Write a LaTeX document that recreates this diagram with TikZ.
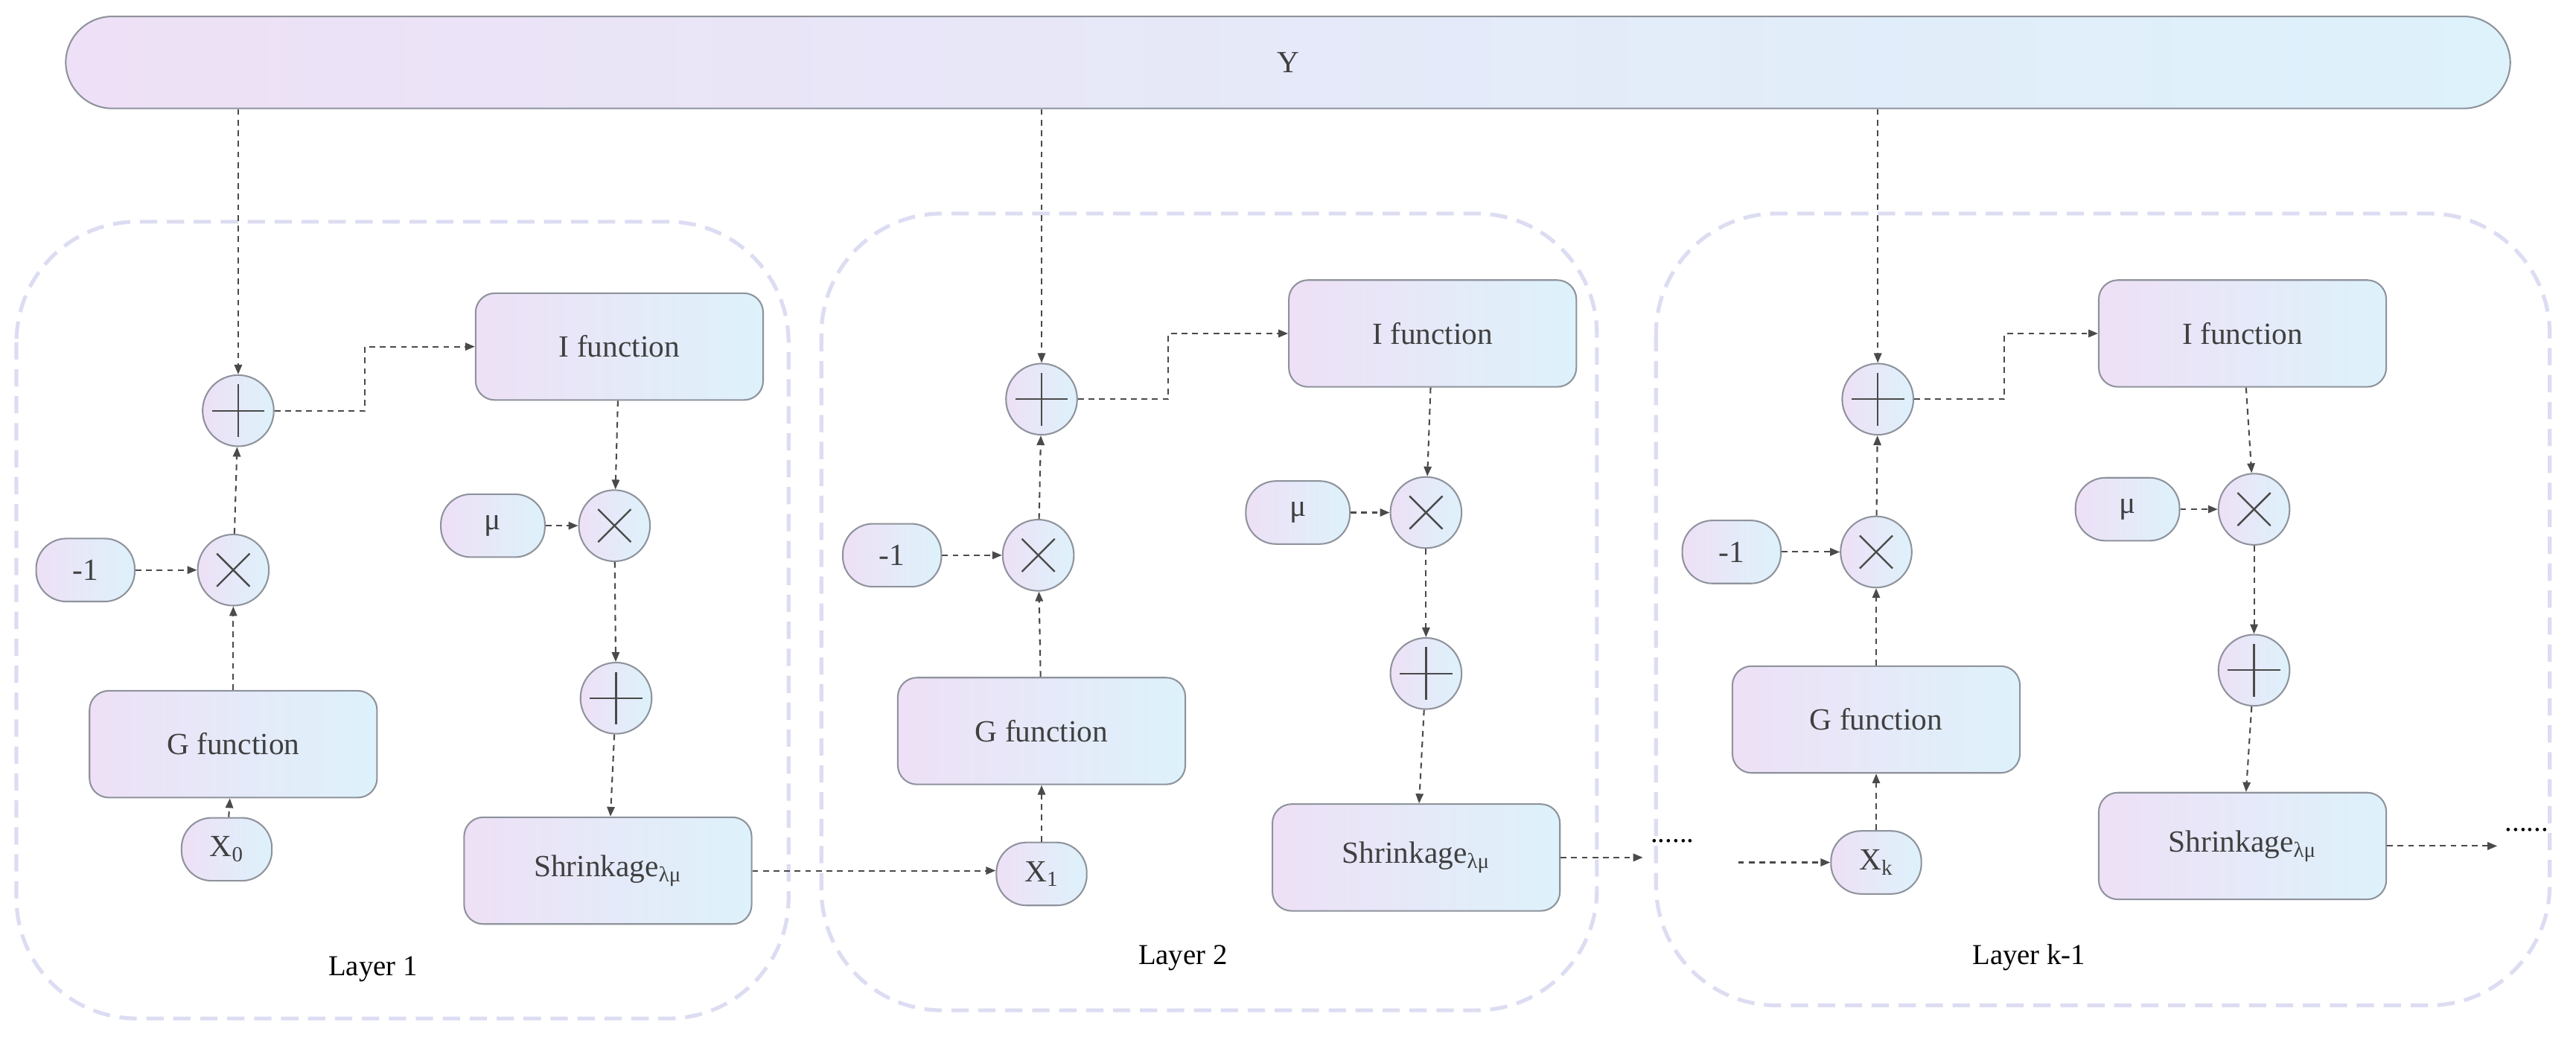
\documentclass[tikz,border=0pt]{standalone}
\usepackage{fontspec}
\setmainfont{Liberation Serif}
\usetikzlibrary{arrows.meta}
\definecolor{lpink}{HTML}{EEE0F6}
\definecolor{lcyan}{HTML}{DDF2FB}
\definecolor{bord}{HTML}{8E939C}
\definecolor{arr}{HTML}{4A4A4A}
\definecolor{lay}{HTML}{DCDDF2}
\begin{document}
\begin{tikzpicture}[x=0.03cm,y=-0.03cm,
  box/.style={draw=bord,line width=0.8pt,rounded corners=0.35cm,left color=lpink,right color=lcyan,font=\fontsize{16}{18}\selectfont,text=black!75},
  func/.style={box,minimum width=5.25cm,minimum height=1.95cm},
  pill/.style={box,rounded corners=0.55cm,minimum height=1.15cm},
  op/.style={circle,draw=bord,line width=0.8pt,left color=lpink,right color=lcyan,minimum size=1.3cm,inner sep=0},
  plusop/.style={op,path picture={\draw[arr,line width=0.9pt] ([xshift=-0.48cm]path picture bounding box.center)--([xshift=0.48cm]path picture bounding box.center) ([yshift=-0.48cm]path picture bounding box.center)--([yshift=0.48cm]path picture bounding box.center);}},
  timesop/.style={op,path picture={\draw[arr,line width=0.9pt] ([shift={(-0.3cm,-0.3cm)}]path picture bounding box.center)--([shift={(0.3cm,0.3cm)}]path picture bounding box.center) ([shift={(-0.3cm,0.3cm)}]path picture bounding box.center)--([shift={(0.3cm,-0.3cm)}]path picture bounding box.center);}},
  layer/.style={draw=lay,line width=2pt,dash pattern=on 9pt off 5pt,rounded corners=2.2cm},
  a/.style={draw=arr,line width=0.8pt,dash pattern=on 3pt off 2.5pt,-{Triangle[length=5pt,width=4pt]}},
  lab/.style={font=\fontsize{15}{17}\selectfont}
]
\useasboundingbox (0,0) rectangle (1568,631);
% Y bar
\node[box,rounded corners=0.85cm,minimum width=1488*0.03cm,minimum height=56*0.03cm] (Y) at (784,38) {Y};
% layer frames
\draw[layer] (10,135) rectangle (480,620);
\draw[layer] (500,130) rectangle (972,615);
\draw[layer] (1008,130) rectangle (1552,612);
\node[lab] (L1) at (227,590) {Layer 1};
\node[lab] (L2) at (720,583) {Layer 2};
\node[lab] (L3) at (1235,583) {Layer k-1};

% Layer 1
\node[plusop] (p1) at (145,250) {};
\node[timesop] (t1) at (142,347) {};
\node[pill,minimum width=1.8cm] (m1) at (52,347) {-1};
\node[func] (g1) at (142,453) {G function};
\node[pill,minimum width=1.65cm] (x0) at (138,517) {X\textsubscript{0}};
\node[func] (i1) at (377,211) {I function};
\node[pill,minimum width=1.9cm] (mu1) at (300,320) {μ};
\node[timesop] (tt1) at (374,320) {};
\node[plusop] (pp1) at (375,425) {};
\node[func] (s1) at (370,530) {Shrinkage\textsubscript{λμ}};
% Layer 2
\node[plusop] (p2) at (634,243) {};
\node[timesop] (t2) at (632,338) {};
\node[pill,minimum width=1.8cm] (m2) at (543,338) {-1};
\node[func] (g2) at (634,445) {G function};
\node[pill,minimum width=1.65cm] (x1) at (634,532) {X\textsubscript{1}};
\node[func] (i2) at (872,203) {I function};
\node[pill,minimum width=1.9cm] (mu2) at (790,312) {μ};
\node[timesop] (tt2) at (868,312) {};
\node[plusop] (pp2) at (868,410) {};
\node[func] (s2) at (862,522) {Shrinkage\textsubscript{λμ}};
% Layer k-1
\node[plusop] (p3) at (1143,243) {};
\node[timesop] (t3) at (1142,336) {};
\node[pill,minimum width=1.8cm] (m3) at (1054,336) {-1};
\node[func] (g3) at (1142,438) {G function};
\node[pill,minimum width=1.65cm] (xk) at (1142,525) {X\textsubscript{k}};
\node[func] (i3) at (1365,203) {I function};
\node[pill,minimum width=1.9cm] (mu3) at (1295,310) {μ};
\node[timesop] (tt3) at (1372,310) {};
\node[plusop] (pp3) at (1372,408) {};
\node[func] (s3) at (1365,515) {Shrinkage\textsubscript{λμ}};
\node[lab] (d1) at (1018,512) {......};
\node[lab] (d2) at (1538,505) {......};
\coordinate (e1) at (1000,522);
\coordinate (b3) at (1058,525);
\coordinate (e3) at (1520,515);

\foreach \p/\t/\m/\g/\x/\i/\mu/\tt/\pp/\s in {p1/t1/m1/g1/x0/i1/mu1/tt1/pp1/s1,p2/t2/m2/g2/x1/i2/mu2/tt2/pp2/s2,p3/t3/m3/g3/xk/i3/mu3/tt3/pp3/s3}{
  \draw[a] (Y.south -| \p) -- (\p);
  \draw[a] (\x) -- (\g);
  \draw[a] (\g) -- (\t);
  \draw[a] (\m) -- (\t);
  \draw[a] (\t) -- (\p);
  \draw[a] (\p.east) -- ++(55,0) |- (\i.west);
  \draw[a] (\i) -- (\tt);
  \draw[a] (\mu) -- (\tt);
  \draw[a] (\tt) -- (\pp);
  \draw[a] (\pp) -- (\s);
}
\draw[a] (s1.east) -- (s1.east -| x1.west);
\draw[a] (s2.east) -- (e1);
\draw[a] (b3) -- (xk);
\draw[a] (s3.east) -- (e3);
\end{tikzpicture}
\end{document}
